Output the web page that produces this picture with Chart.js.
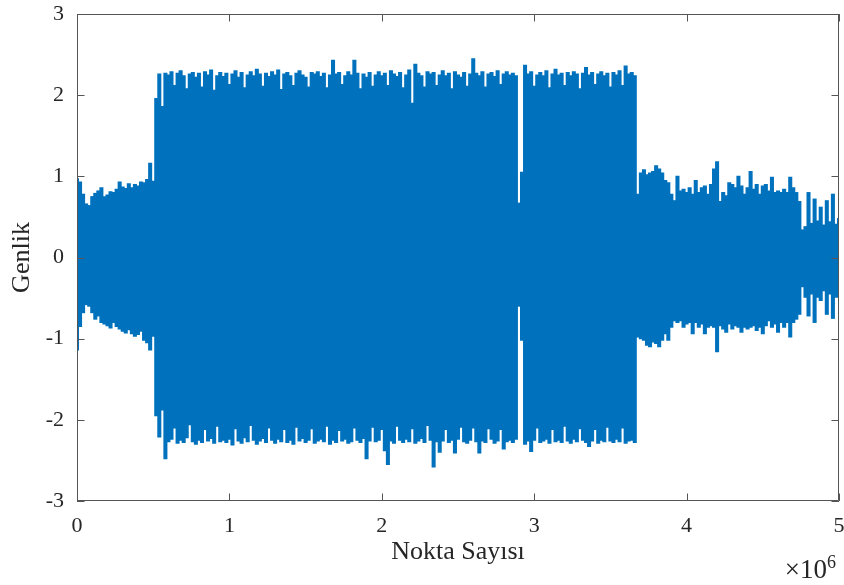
<!DOCTYPE html>
<html lang="tr">
<head>
    <meta charset="UTF-8">
    <title>Genlik - Nokta Sayısı</title>
    <script src="https://cdn.jsdelivr.net/npm/chart.js"></script>
    <style>
        html, body {
            margin: 0;
            padding: 0;
            background: #ffffff;
        }
        #wrap {
            width: 844px;
            height: 585px;
        }
    </style>
</head>
<body>
    <div id="wrap"><canvas id="chart" width="844" height="585"></canvas></div>

    <script>
        // one bin every 0.02 x 10^6 points; each bin keeps the max and min of the signal
        const binSize = 20000;
        const xTicks = [0, 1, 2, 3, 4, 5];      // x 10^6
        const yTicks = [-3, -2, -1, 0, 1, 2, 3];

        // upper envelope (max per bin)
        const upperEnv = [
            0.97, 0.93, 0.78, 0.66, 0.64, 0.75, 0.79, 0.82, 0.86, 0.75,
            0.77, 0.81, 0.80, 0.84, 0.93, 0.87, 0.85, 0.91, 0.86, 0.90,
            0.88, 0.93, 0.92, 0.96, 1.16, 0.94,
            1.96, 2.26, 1.86, 2.27,
            2.25, 2.29, 2.12, 2.27, 2.30, 2.24, 2.08, 2.26, 2.28, 2.22,
            2.27, 2.10, 2.29, 2.25, 2.31, 2.06, 2.24, 2.28, 2.23, 2.27,
            2.13, 2.26, 2.30, 2.22, 2.28, 2.09, 2.25, 2.29, 2.24, 2.32,
            2.26, 2.11, 2.27, 2.23, 2.29, 2.25, 2.31, 2.07, 2.26, 2.28,
            2.24, 2.12, 2.27, 2.30, 2.25, 2.22, 2.10, 2.28, 2.26, 2.29,
            2.23, 2.27, 2.09, 2.25, 2.43, 2.26, 2.28, 2.13, 2.24, 2.29,
            2.25, 2.43, 2.27, 2.08, 2.26, 2.22, 2.28, 2.11, 2.25, 2.29,
            2.24, 2.27, 2.12, 2.30, 2.26, 2.23, 2.28, 2.09, 2.25, 2.31,
            1.90, 2.38, 2.27, 2.24, 2.10, 2.29, 2.26, 2.28, 2.12, 2.25,
            2.30, 2.24, 2.27, 2.08, 2.29, 2.25, 2.22, 2.28, 2.11, 2.26,
            2.45, 2.27, 2.24, 2.29, 2.10, 2.26, 2.28, 2.23, 2.30, 2.13,
            2.26, 2.29, 2.25, 2.27, 2.24,
            0.67, 1.05,
            2.37, 2.26, 2.29, 2.11, 2.25, 2.28, 2.24, 2.30, 2.09, 2.26,
            2.32, 2.25, 2.27, 2.12, 2.28, 2.24, 2.29, 2.26, 2.08, 2.27,
            2.34, 2.25, 2.28, 2.13, 2.26, 2.29, 2.24, 2.27, 2.10, 2.28,
            2.25, 2.30, 2.12, 2.36, 2.26, 2.28, 2.24,
            0.78, 1.04, 1.08, 1.02, 1.04, 1.06, 1.13, 1.09, 1.04, 0.95,
            0.92, 0.78, 0.70, 1.00, 0.82, 0.84, 0.80, 0.86, 0.78, 0.95,
            0.80, 0.86, 0.88, 0.78, 0.90, 1.09, 1.18, 0.69, 0.80, 0.76,
            0.92, 0.90, 0.86, 1.00, 0.88, 0.78, 0.86, 1.06, 0.84, 0.90,
            0.78, 0.88, 0.90, 0.82, 0.99, 0.80, 0.82, 0.80, 0.84, 0.80,
            0.99, 0.86, 0.80, 0.69,
            0.34, 0.38, 0.80, 0.42, 0.72, 0.45, 0.62, 0.40, 0.70, 0.44,
            0.78, 0.41, 0.48
        ];

        // lower envelope (min per bin)
        const lowerEnv = [
            -1.14, -0.85, -0.68, -0.58, -0.60, -0.68, -0.76, -0.72, -0.80, -0.82,
            -0.84, -0.87, -0.80, -0.85, -0.88, -0.91, -0.93, -0.89, -0.94, -0.97,
            -0.95, -0.91, -1.02, -1.05, -1.14, -0.97,
            -1.95, -2.21, -1.88, -2.48,
            -2.27, -2.24, -2.10, -2.29, -2.25, -2.28, -2.22, -2.06, -2.27, -2.30,
            -2.25, -2.28, -2.12, -2.26, -2.23, -2.29, -2.08, -2.27, -2.25, -2.28,
            -2.24, -2.31, -2.11, -2.26, -2.29, -2.22, -2.27, -2.07, -2.25, -2.30,
            -2.26, -2.23, -2.28, -2.10, -2.25, -2.29, -2.24, -2.27, -2.12, -2.28,
            -2.25, -2.30, -2.09, -2.26, -2.23, -2.28, -2.25, -2.11, -2.29, -2.26,
            -2.24, -2.27, -2.08, -2.30, -2.25, -2.28, -2.13, -2.26, -2.24, -2.29,
            -2.27, -2.10, -2.25, -2.28, -2.23, -2.48, -2.26, -2.09, -2.27, -2.25,
            -2.12, -2.38, -2.55, -2.26, -2.29, -2.08, -2.25, -2.28, -2.24, -2.27,
            -2.11, -2.29, -2.26, -2.23, -2.28, -2.07, -2.25, -2.58, -2.27, -2.40,
            -2.26, -2.12, -2.28, -2.25, -2.41, -2.24, -2.09, -2.27, -2.29, -2.25,
            -2.10, -2.27, -2.41, -2.26, -2.28, -2.11, -2.24, -2.29, -2.26, -2.12,
            -2.36, -2.27, -2.25, -2.28, -2.24,
            -0.60, -1.02,
            -2.30, -2.26, -2.39, -2.25, -2.10, -2.28, -2.26, -2.24, -2.29, -2.12,
            -2.27, -2.25, -2.28, -2.08, -2.26, -2.29, -2.24, -2.27, -2.11, -2.25,
            -2.28, -2.33, -2.26, -2.12, -2.29, -2.25, -2.27, -2.09, -2.26, -2.28,
            -2.24, -2.27, -2.10, -2.29, -2.26, -2.25, -2.28,
            -0.98, -1.00, -1.02, -1.08, -1.10, -1.04, -1.06, -1.10, -1.02, -0.94,
            -1.02, -0.86, -0.78, -0.80, -0.78, -0.86, -0.82, -0.80, -0.94, -0.80,
            -0.86, -0.82, -0.94, -0.86, -0.84, -0.86, -1.16, -0.84, -0.88, -0.92,
            -0.82, -0.88, -0.84, -0.86, -0.92, -0.86, -0.88, -0.86, -0.84, -0.90,
            -0.86, -0.94, -0.84, -0.78, -0.86, -0.82, -0.92, -0.80, -0.86, -0.80,
            -0.98, -0.80, -0.76, -0.70,
            -0.36, -0.49, -0.72, -0.45, -0.80, -0.49, -0.53, -0.41, -0.70, -0.45,
            -0.75, -0.49, -0.45
        ];

        const serif = "'Liberation Serif', 'Times New Roman', serif";
        const axisColor = '#555555';

        let points = upperEnv.map((hi, i) => ({ x: i * binSize, y: [lowerEnv[i], hi] }));

        // MATLAB style box with inward ticks on all four sides, plus the x10^6 note
        const boxPlugin = {
            id: 'box',
            afterDraw(chart) {
                const ctx = chart.ctx;
                const a = chart.chartArea;
                const xs = chart.scales.x;
                const ys = chart.scales.y;
                const tick = 7.5;
                ctx.save();
                ctx.strokeStyle = axisColor;
                ctx.lineWidth = 1;
                ctx.beginPath();
                ctx.rect(a.left + 0.5, a.top + 0.5, a.right - a.left - 1, a.bottom - a.top - 1);
                xTicks.forEach(v => {
                    const px = Math.round(xs.getPixelForValue(v * 1e6)) + 0.5;
                    ctx.moveTo(px, a.bottom); ctx.lineTo(px, a.bottom - tick);
                    ctx.moveTo(px, a.top); ctx.lineTo(px, a.top + tick);
                });
                yTicks.forEach(v => {
                    const py = Math.round(ys.getPixelForValue(v)) + 0.5;
                    ctx.moveTo(a.left, py); ctx.lineTo(a.left + tick, py);
                    ctx.moveTo(a.right, py); ctx.lineTo(a.right - tick, py);
                });
                ctx.stroke();

                ctx.fillStyle = '#262626';
                ctx.textBaseline = 'alphabetic';
                ctx.textAlign = 'right';
                ctx.font = '27px ' + serif;
                ctx.fillText('\u00d710', 827, 578);
                ctx.textAlign = 'left';
                ctx.font = '18px ' + serif;
                ctx.fillText('6', 827, 568);
                ctx.restore();
            }
        };

        new Chart(document.getElementById('chart'), {
            type: 'bar',
            data: {
                datasets: [{
                    label: 'Genlik',
                    data: points,
                    backgroundColor: '#0072BD',
                    borderWidth: 0,
                    barPercentage: 1,
                    categoryPercentage: 1,
                    inflateAmount: 0.5
                }]
            },
            options: {
                responsive: false,
                animation: false,
                events: [],
                layout: { padding: { top: 14, right: 5, left: 0, bottom: 0 } },
                plugins: {
                    legend: { display: false },
                    tooltip: { enabled: false }
                },
                scales: {
                    x: {
                        type: 'linear',
                        min: 0,
                        max: 5e6,
                        offset: false,
                        afterFit(scale) {
                            scale.height = 84;
                            scale.paddingLeft = 0;
                            scale.paddingRight = 0;
                        },
                        afterBuildTicks(scale) {
                            scale.ticks = xTicks.map(v => ({ value: v * 1e6 }));
                        },
                        grid: { display: false, drawTicks: false },
                        border: { display: false },
                        ticks: {
                            color: '#262626',
                            font: { family: serif, size: 22 },
                            padding: 12,
                            maxRotation: 0,
                            callback: v => String(v / 1e6)
                        },
                        title: {
                            display: true,
                            text: 'Nokta Sayısı',
                            color: '#262626',
                            font: { family: serif, size: 26 },
                            padding: { top: 0, bottom: 17 }
                        }
                    },
                    y: {
                        min: -3,
                        max: 3,
                        afterFit(scale) {
                            scale.width = 77;
                            scale.paddingTop = 0;
                            scale.paddingBottom = 0;
                        },
                        afterBuildTicks(scale) {
                            scale.ticks = yTicks.map(v => ({ value: v }));
                        },
                        grid: { display: false, drawTicks: false },
                        border: { display: false },
                        ticks: {
                            color: '#262626',
                            font: { family: serif, size: 22 },
                            padding: 13,
                            callback: v => String(v)
                        },
                        title: {
                            display: true,
                            text: 'Genlik',
                            color: '#262626',
                            font: { family: serif, size: 26 },
                            padding: { top: 7, bottom: 0 }
                        }
                    }
                }
            },
            plugins: [boxPlugin]
        });
    </script>
</body>
</html>
